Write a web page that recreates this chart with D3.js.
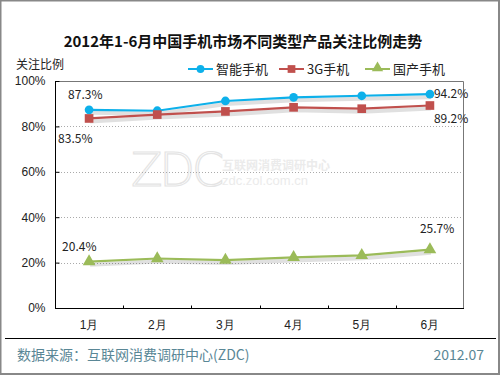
<!DOCTYPE html>
<meta charset="utf-8">
<style>
  body { margin: 0; background: #fff; }
  svg { display: block; font-family: "Noto Sans CJK SC", "DejaVu Sans", sans-serif; }
  .grid line { stroke: #aaa; stroke-dasharray: 1,2; }
  .axis path, .axis line { stroke: #000; }
  .axis text { font-size: 12px; fill: #222; }
</style>
<body></body>
<script src="https://d3js.org/d3.v7.min.js"></script>
<script>

var months = ["1月", "2月", "3月", "4月", "5月", "6月"];
var smart = [87.3, 86.9, 91.2, 92.8, 93.5, 94.2];
var g3 = [83.5, 85.2, 86.6, 88.4, 87.8, 89.2];
var domestic = [20.4, 21.8, 21.1, 22.3, 23.2, 25.7];
var yTicks = [0, 20, 40, 60, 80, 100];
var seriesNames = ["智能手机", "3G手机", "国产手机"];

var width = 500, height = 375;
var margin = {top: 81, right: 36, bottom: 67, left: 55};
var w = width - margin.left - margin.right,
    h = height - margin.top - margin.bottom;

var svg = d3.select("body").append("svg")
    .attr("width", width)
    .attr("height", height);

// outer frame
svg.append("rect")
    .attr("x", 0.5).attr("y", 0.5)
    .attr("width", width - 1.5).attr("height", height - 1.5)
    .attr("fill", "#fff").attr("stroke", "#888").attr("stroke-width", 2);

svg.append("text")
    .attr("x", 243).attr("y", 47)
    .attr("text-anchor", "middle")
    .attr("font-size", 15).attr("font-weight", "bold")
    .attr("fill", "#111")
    .text("2012年1-6月中国手机市场不同类型产品关注比例走势");

svg.append("text")
    .attr("x", 16).attr("y", 69)
    .attr("font-size", 12).attr("fill", "#222")
    .text("关注比例");

var x = d3.scaleBand().domain(months).range([0, w]);
var y = d3.scaleLinear().domain([0, 100]).range([h, 0]);

var g = svg.append("g")
    .attr("transform", "translate(" + margin.left + "," + margin.top + ")");

// watermark
var wm = g.append("g").attr("fill", "#ebebeb");
wm.append("text").attr("x", 76).attr("y", 105)
    .attr("font-size", 46).attr("font-family", "DejaVu Sans, sans-serif")
    .attr("font-weight", 200).attr("letter-spacing", -3)
    .attr("fill", "none").attr("stroke", "#e4e4e4").attr("stroke-width", 1.2)
    .text("ZDC");
wm.append("text").attr("x", 167).attr("y", 89)
    .attr("font-size", 12).attr("font-weight", "bold").text("互联网消费调研中心");
wm.append("text").attr("x", 167).attr("y", 104)
    .attr("font-size", 13).attr("font-family", "Liberation Sans, sans-serif").text("zdc.zol.com.cn");

// grid
g.append("g").attr("class", "grid")
    .selectAll("line")
    .data(yTicks.filter(function (d) { return d > 0 && d < 100; }))
    .enter().append("line")
    .attr("x1", 0).attr("x2", w)
    .attr("y1", function (d) { return Math.round(y(d)) + 0.5; })
    .attr("y2", function (d) { return Math.round(y(d)) + 0.5; });

// box top and right
g.append("path")
    .attr("d", "M0.5,0.5H" + (w - 0.5) + "V" + h)
    .attr("fill", "none").attr("stroke", "#777");

var yAxis = d3.axisLeft(y).tickValues(yTicks)
    .tickSize(-4).tickPadding(10)
    .tickFormat(function (d) { return d + "%"; });
g.append("g").attr("class", "axis")
    .attr("transform", "translate(0.5,0)")
    .call(yAxis)
    .call(function (s) { s.select(".domain").attr("d", "M0," + h + "V0"); });

var xAxis = d3.axisBottom(x).tickSize(0).tickPadding(12);
var xg = g.append("g").attr("class", "axis")
    .attr("transform", "translate(0," + (h + 0.5) + ")")
    .call(xAxis);
xg.select(".domain").attr("d", "M0,0H" + w);
xg.selectAll(".bound")
    .data(months.slice(1))
    .enter().append("line")
    .attr("x1", function (d) { return Math.round(x(d)) + 0.5; })
    .attr("x2", function (d) { return Math.round(x(d)) + 0.5; })
    .attr("y1", 0).attr("y2", -3)
    .attr("stroke", "#000");

var series = [
  {name: seriesNames[0], values: smart, color: "#0db0ea", shape: d3.symbolCircle, size: 60},
  {name: seriesNames[1], values: g3, color: "#c0504d", shape: d3.symbolSquare, size: 75},
  {name: seriesNames[2], values: domestic, color: "#9bbb59", shape: d3.symbolTriangle, size: 70}
];

var line = d3.line()
    .x(function (d, i) { return x(months[i]) + x.bandwidth() / 2; })
    .y(function (d) { return y(d); });

// shadows
series.forEach(function (s) {
  g.append("path")
    .datum(s.values)
    .attr("d", line)
    .attr("transform", "translate(1,3)")
    .attr("fill", "none")
    .attr("stroke", "#000").attr("stroke-opacity", 0.12)
    .attr("stroke-width", 4);
});

series.forEach(function (s) {
  g.append("path")
    .datum(s.values)
    .attr("d", line)
    .attr("fill", "none")
    .attr("stroke", s.color)
    .attr("stroke-width", 2.2);
  g.selectAll(null)
    .data(s.values)
    .enter().append("path")
    .attr("transform", function (d, i) {
      var dy = s.shape === d3.symbolTriangle ? 0 : 0;
      return "translate(" + (x(months[i]) + x.bandwidth() / 2) + "," + (y(d) + dy) + ")";
    })
    .attr("d", d3.symbol().type(s.shape).size(s.size))
    .attr("fill", s.color);
});

// data labels
var labels = [
  {v: smart[0], i: 0, dx: -21, dy: -11},
  {v: g3[0], i: 0, dx: -31, dy: 25},
  {v: smart[5], i: 5, dx: 4, dy: 4},
  {v: g3[5], i: 5, dx: 4, dy: 29},
  {v: domestic[0], i: 0, dx: -27, dy: -11},
  {v: domestic[5], i: 5, dx: -10, dy: -17}
];
var ref = [smart[0], g3[0], smart[5], smart[5], domestic[0], domestic[5]];
g.selectAll(".lbl")
    .data(labels)
    .enter().append("text")
    .attr("x", function (d) { return x(months[d.i]) + x.bandwidth() / 2 + d.dx; })
    .attr("y", function (d, k) { return y(ref[k]) + d.dy; })
    .attr("font-size", 12).attr("fill", "#222")
    .text(function (d) { return d.v.toFixed(1) + "%"; });

// legend
var leg = svg.append("g").attr("transform", "translate(188,69)");
var legX = [0, 91, 177];
series.forEach(function (s, k) {
  var lg = leg.append("g").attr("transform", "translate(" + legX[k] + ",0)");
  lg.append("line").attr("x1", 0).attr("x2", 25).attr("y1", 0).attr("y2", 0)
    .attr("stroke", s.color).attr("stroke-width", 2);
  lg.append("path").attr("transform", "translate(12.5," + (s.shape === d3.symbolTriangle ? -1 : 0) + ")")
    .attr("d", d3.symbol().type(s.shape).size(s.size * 0.8))
    .attr("fill", s.color);
  lg.append("text").attr("x", 28).attr("y", 4.5)
    .attr("font-size", 13).attr("fill", "#222")
    .text(s.name);
});

// footer
svg.append("line")
    .attr("x1", 5).attr("x2", 496)
    .attr("y1", 338.5).attr("y2", 338.5)
    .attr("stroke", "#000");
svg.append("text")
    .attr("x", 17).attr("y", 360)
    .attr("font-size", 14).attr("fill", "#5a8796")
    .text("数据来源：互联网消费调研中心(ZDC)");
svg.append("text")
    .attr("x", 484).attr("y", 360)
    .attr("text-anchor", "end")
    .attr("font-size", 14).attr("fill", "#5a8796")
    .text("2012.07");

</script>
